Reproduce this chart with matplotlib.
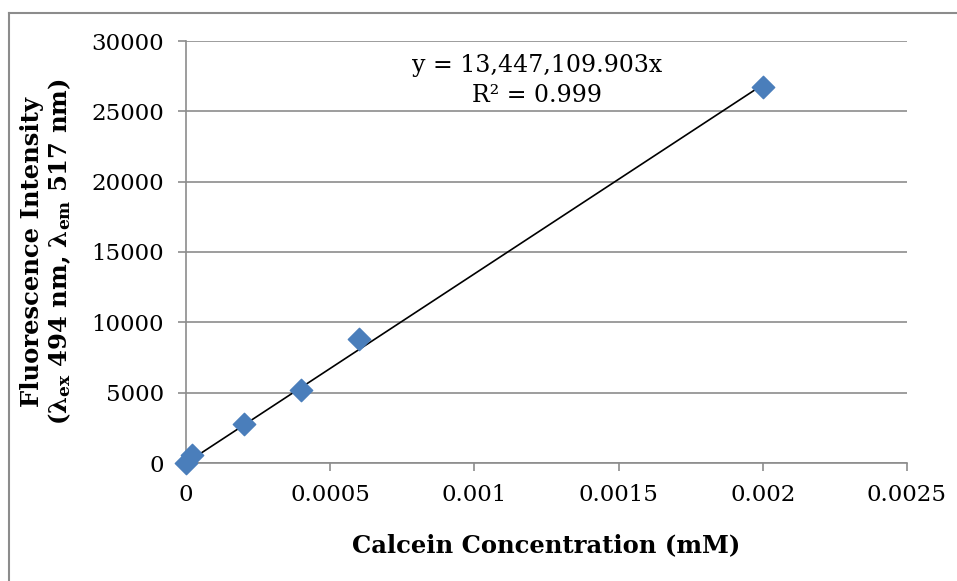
import matplotlib.pyplot as plt
from matplotlib.lines import Line2D

# calibration points
conc = [0, 0.00002, 0.0002, 0.0004, 0.0006, 0.002]
intensity = [0, 540, 2750, 5200, 8800, 26700]
slope = 13447109.903
fit_x = [0, 0.002]

plt.rcParams['font.family'] = 'DejaVu Serif'
plt.rcParams['mathtext.fontset'] = 'custom'
plt.rcParams['mathtext.rm'] = 'DejaVu Serif:bold'
plt.rcParams['mathtext.it'] = 'DejaVu Serif:bold'
plt.rcParams['mathtext.bf'] = 'DejaVu Serif:bold'

fig = plt.figure(figsize=(9.57, 5.81), dpi=100)
ax = fig.add_axes([186/957, 1 - 463/581, (907-186)/957, (463-41)/581])

grid_col = '#8c8c8c'
ax.set_xlim(0, 0.0025)
ax.set_ylim(0, 30000)
ax.set_xticks([0, 0.0005, 0.001, 0.0015, 0.002, 0.0025])
ax.set_xticklabels(['0', '0.0005', '0.001', '0.0015', '0.002', '0.0025'])
ax.set_yticks(range(0, 30001, 5000))
ax.yaxis.grid(True, color=grid_col, linewidth=1.2)
ax.set_axisbelow(True)
for s in ['top', 'right']:
    ax.spines[s].set_visible(False)
for s in ['left', 'bottom']:
    ax.spines[s].set_color(grid_col)
    ax.spines[s].set_linewidth(1.2)
ax.tick_params(axis='both', colors=grid_col, length=6, width=1.2, labelsize=16.5,
               labelcolor='black')
ax.tick_params(axis='x', pad=9)
ax.tick_params(axis='y', pad=10)

# trendline
ax.plot(fit_x, [slope * v for v in fit_x], color='black', linewidth=1.2, zorder=3)
ax.scatter(conc, intensity, marker='D', s=130, color='#4a7ebb', edgecolors='#4a7ebb',
           zorder=4, clip_on=False)

ax.text(0.001217, 27200, 'y = 13,447,109.903x\nR² = 0.999', ha='center', va='center',
        fontsize=17, linespacing=1.4)

ax.set_xlabel('Calcein Concentration (mM)', fontsize=17.5, fontweight='bold', labelpad=20)
ax.set_ylabel('Fluorescence Intensity\n'
              r'(λ$_{ex}$ 494 nm, λ$_{em}$ 517 nm)',
              fontsize=17.5, fontweight='bold', labelpad=13, linespacing=1.1)

# outer chart border (partly cropped)
fig.add_artist(Line2D([9/957, 9/957], [0, 1 - 13/581], transform=fig.transFigure,
                      color='#8c8c8c', linewidth=1.5))
fig.add_artist(Line2D([9/957, 1], [1 - 13/581, 1 - 13/581], transform=fig.transFigure,
                      color='#8c8c8c', linewidth=1.5))

fig.savefig('out.png', dpi=100)
